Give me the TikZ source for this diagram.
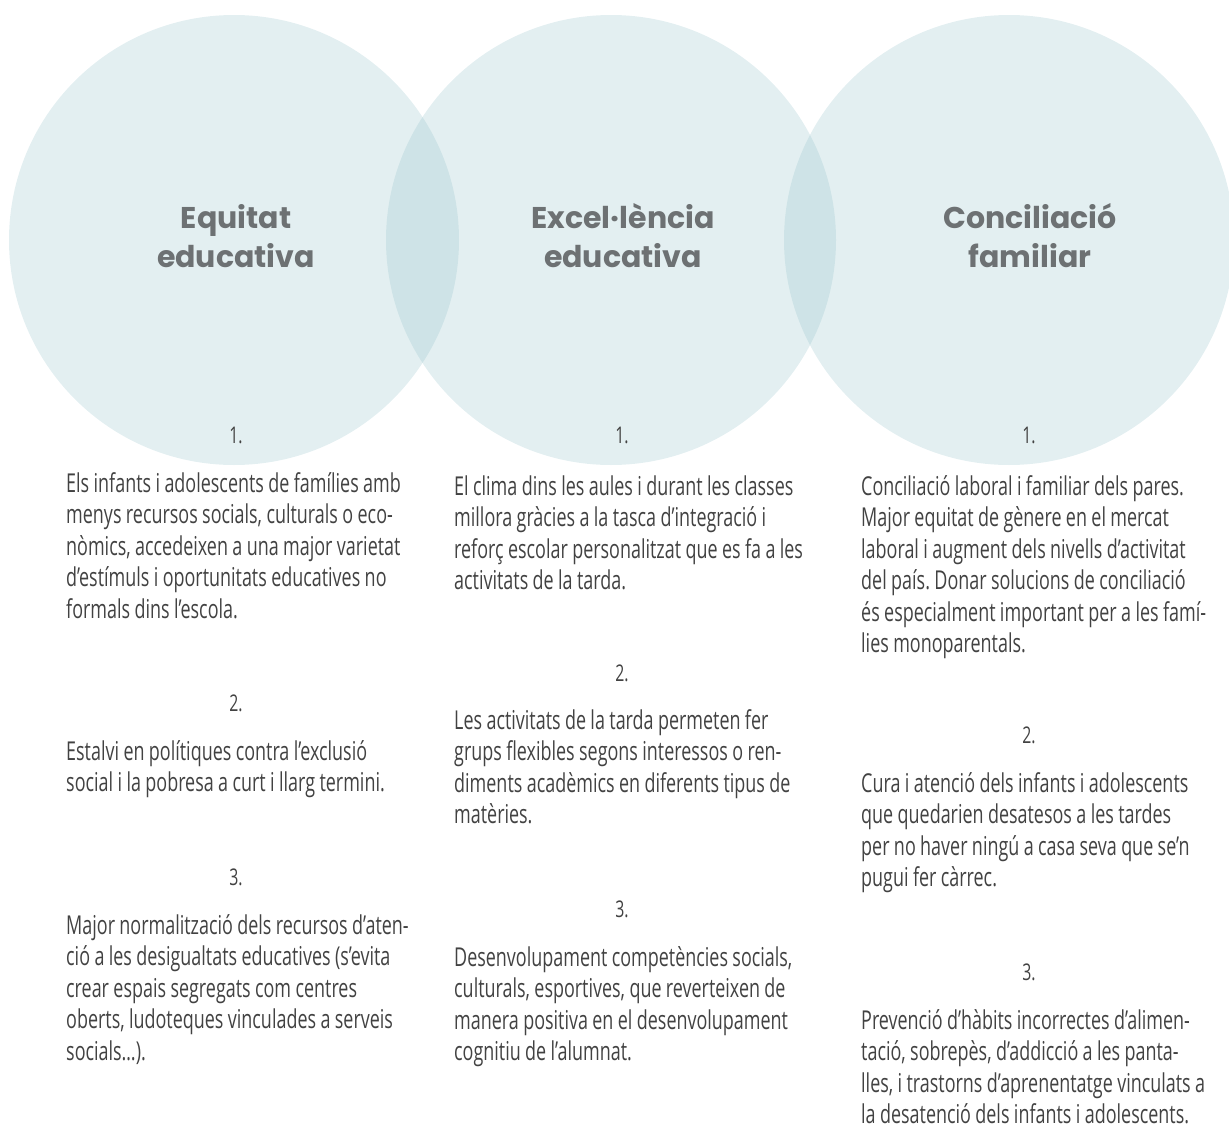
\documentclass[tikz,border=0pt]{standalone}
\usepackage{fontspec}
\usepackage{tikz}
\newfontfamily\bodyfont{Open Sans}[FakeStretch=0.69]
\newfontfamily\titlefont{Poppins}
\newcommand\tightsp{\frenchspacing\spaceskip=4.4pt\relax}
\definecolor{discblue}{RGB}{151,196,203}
\definecolor{titlegray}{RGB}{109,113,115}
\definecolor{ink}{RGB}{66,66,66}

\begin{document}
\begin{tikzpicture}[x=1pt,y=-1pt,
  disc/.style={circle,minimum size=450pt,inner sep=0pt,fill=discblue,fill opacity=0.27},
  ttl/.style={anchor=base,inner sep=0pt,text width=260pt,align=center,text=titlegray,
    font=\titlefont\bfseries\fontsize{30}{39}\selectfont},
  num/.style={anchor=base,inner sep=0pt,text=ink,font=\bodyfont\fontsize{23}{24}\selectfont},
  para/.style={anchor=base west,inner sep=0pt,text width=360pt,align=left,text=ink,
    font=\bodyfont\fontsize{26}{31.5}\selectfont,execute at begin node=\tightsp}]
\useasboundingbox (0,0) rectangle (1229,1129);
\clip (0,0) rectangle (1229,1129);

% the three circles
\node [disc] (eqc) at (234,240) {};
\node [disc] (exc) at (611,240) {};
\node [disc] (coc) at (1009,240) {};

\node [ttl] (eqt) at (236,228) {Equitat\\educativa};
\node [ttl] (ext) at (623,228) {Excel·lència\\educativa};
\node [ttl] (cot) at (1030,228) {Conciliació\\familiar};

% first column
\node [num] (eq1) at (236,443) {1.};
\node [para] (eqp1) at (66,492) {Els infants i adolescents de famílies amb\\
menys recursos socials, culturals o eco-\\
nòmics, accedeixen a una major varietat\\
d’estímuls i oportunitats educatives no\\
formals dins l’escola.};
\node [num] (eq2) at (236,711) {2.};
\node [para] (eqp2) at (66,760) {Estalvi en polítiques contra l’exclusió\\
social i la pobresa a curt i llarg termini.};
\node [num] (eq3) at (236,885) {3.};
\node [para] (eqp3) at (66,934) {Major normalització dels recursos d’aten-\\
ció a les desigualtats educatives (s’evita\\
crear espais segregats com centres\\
oberts, ludoteques vinculades a serveis\\
socials…).};

% second column
\node [num] (ex1) at (622,443) {1.};
\node [para] (exp1) at (454,495) {El clima dins les aules i durant les classes\\
millora gràcies a la tasca d’integració i\\
reforç escolar personalitzat que es fa a les\\
activitats de la tarda.};
\node [num] (ex2) at (622,681) {2.};
\node [para] (exp2) at (454,729) {Les activitats de la tarda permeten fer\\
grups flexibles segons interessos o ren-\\
diments acadèmics en diferents tipus de\\
matèries.};
\node [num] (ex3) at (622,917) {3.};
\node [para] (exp3) at (454,966) {Desenvolupament competències socials,\\
culturals, esportives, que reverteixen de\\
manera positiva en el desenvolupament\\
cognitiu de l’alumnat.};

% third column
\node [num] (co1) at (1029,443) {1.};
\node [para] (cop1) at (861,495) {Conciliació laboral i familiar dels pares.\\
Major equitat de gènere en el mercat\\
laboral i augment dels nivells d’activitat\\
del país. Donar solucions de conciliació\\
és especialment important per a les famí-\\
lies monoparentals.};
\node [num] (co2) at (1029,743) {2.};
\node [para] (cop2) at (861,792) {Cura i atenció dels infants i adolescents\\
que quedarien desatesos a les tardes\\
per no haver ningú a casa seva que se’n\\
pugui fer càrrec.};
\node [num] (co3) at (1029,980) {3.};
\node [para] (cop3) at (861,1029) {Prevenció d’hàbits incorrectes d’alimen-\\
tació, sobrepès, d’addicció a les panta-\\
lles, i trastorns d’aprenentatge vinculats a\\
la desatenció dels infants i adolescents.};
\end{tikzpicture}
\end{document}
